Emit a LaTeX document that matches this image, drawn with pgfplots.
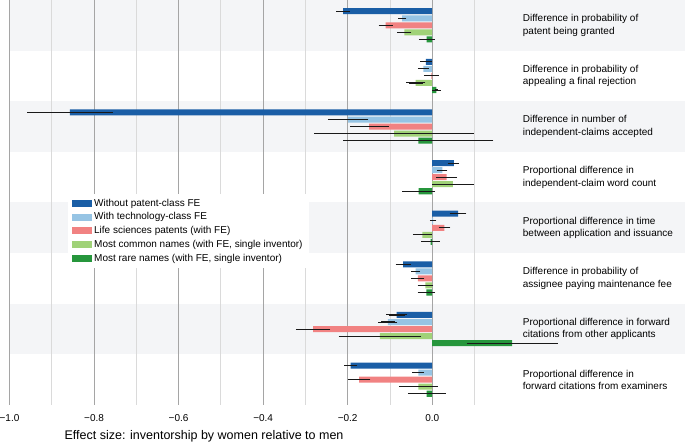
\documentclass[border=0pt]{standalone}
\usepackage{fontspec}
\setmainfont{Liberation Sans}
\usepackage{pgfplots}
\usepackage{pgfplotstable}
\pgfplotsset{compat=1.18}
\definecolor{cA}{RGB}{26,94,166}
\definecolor{cB}{RGB}{150,196,228}
\definecolor{cC}{RGB}{241,130,130}
\definecolor{cD}{RGB}{160,210,120}
\definecolor{cE}{RGB}{38,150,60}
\definecolor{band}{RGB}{244,245,247}
\definecolor{gmaj}{RGB}{165,165,165}
\definecolor{gmin}{RGB}{218,218,218}
\pgfplotstableread{
g v e
0 -0.211 0.010
1 -0.015 0.008
2 -0.857 0.095
3 0.051 0.007
4 0.061 0.014
5 -0.069 0.012
6 -0.084 0.019
7 -0.193 0.010
}\tA
\pgfplotstableread{
g v e
0 -0.071 0.004
1 -0.021 0.007
2 -0.199 0.042
3 0.024 0.006
4 0.002 0.002
5 -0.039 0.005
6 -0.105 0.017
7 -0.033 0.008
}\tB
\pgfplotstableread{
g v e
0 -0.110 0.011
1 -0.002 0.012
2 -0.149 0.040
3 0.034 0.019
4 0.029 0.008
5 -0.034 0.010
6 -0.282 0.035
7 -0.173 0.021
}\tC
\pgfplotstableread{
g v e
0 -0.066 0.011
1 -0.039 0.017
2 -0.090 0.183
3 0.049 0.043
4 -0.023 0.017
5 -0.016 0.013
6 -0.124 0.092
7 -0.033 0.040
}\tD
\pgfplotstableread{
g v e
0 -0.013 0.013
1 0.010 0.004
2 -0.033 0.172
3 -0.032 0.033
4 -0.004 0.016
5 -0.014 0.015
6 0.189 0.102
7 -0.013 0.039
}\tE
\begin{document}
\begin{tikzpicture}
\begin{axis}[
  set layers=standard,
  scale only axis,
  width=675.5bp, height=405bp,
  at={(9.5bp,39bp)}, anchor=south west,
  xmin=-1.0, xmax=0.598,
  ymin=-0.5, ymax=7.5,
  y dir=reverse,
  axis line style={draw=none},
  ytick=\empty,
  xtick={-1,-0.8,-0.6,-0.4,-0.2,0},
  xticklabels={−1.0,−0.8,−0.6,−0.4,−0.2,0.0},
  minor xtick={-0.9,-0.7,-0.5,-0.3,-0.1,0.1},
  major tick length=0pt, minor tick length=0pt,
  xmajorgrids, xminorgrids,
  major grid style={gmaj, line width=0.8bp},
  minor grid style={gmin, line width=0.8bp},
  xticklabel style={font=\fontsize{10bp}{12bp}\selectfont, yshift=-6bp},
  xlabel={Effect size: inventorship by women relative to men},
  xlabel style={font=\fontsize{12.5bp}{15bp}\selectfont, at={(rel axis cs:0.288,0)}, anchor=center, yshift=-31bp},
  xbar, bar width=0.119,
  legend cell align=left,
  legend style={draw=none, fill=white, at={(rel axis cs:0.0866,0.522)}, anchor=north west,
    font=\fontsize{10bp}{12bp}\selectfont, row sep=1.2bp, inner xsep=4bp, inner ysep=3bp},
  legend image code/.code={\fill (0bp,-3.5bp) rectangle (20bp,3.5bp);},
  error bars/x dir=both, error bars/x explicit,
  error bars/error bar style={black!90, line width=1.1bp},
  error bars/error mark options={black!90, line width=1bp, mark size=2.4bp},
]
\begin{pgfonlayer}{axis background}
\fill[band] (axis cs:-1,-0.5) rectangle (axis cs:0.598,0.5);
\fill[band] (axis cs:-1,1.5) rectangle (axis cs:0.598,2.5);
\fill[band] (axis cs:-1,3.5) rectangle (axis cs:0.598,4.5);
\fill[band] (axis cs:-1,5.5) rectangle (axis cs:0.598,6.5);
\end{pgfonlayer}
\addplot[fill=cA, draw=none, bar shift=-0.278] table[x=v, y=g, x error=e] {\tA};
\addlegendentry{Without patent-class FE}
\addplot[fill=cB, draw=none, bar shift=-0.139] table[x=v, y=g, x error=e] {\tB};
\addlegendentry{With technology-class FE}
\addplot[fill=cC, draw=none, bar shift=0] table[x=v, y=g, x error=e] {\tC};
\addlegendentry{Life sciences patents (with FE)}
\addplot[fill=cD, draw=none, bar shift=0.139] table[x=v, y=g, x error=e] {\tD};
\addlegendentry{Most common names (with FE, single inventor)}
\addplot[fill=cE, draw=none, bar shift=0.278] table[x=v, y=g, x error=e] {\tE};
\addlegendentry{Most rare names (with FE, single inventor)}
\tikzset{lab/.style={anchor=west, align=left, font=\fontsize{10bp}{12.5bp}\selectfont, inner sep=0pt}}
\node[lab] at (axis cs:0.214,0) {Difference in probability of\\patent being granted};
\node[lab] at (axis cs:0.214,1) {Difference in probability of\\appealing a final rejection};
\node[lab] at (axis cs:0.214,2) {Difference in number of\\independent-claims accepted};
\node[lab] at (axis cs:0.214,3) {Proportional difference in\\independent-claim word count};
\node[lab] at (axis cs:0.214,4) {Proportional difference in time\\between application and issuance};
\node[lab] at (axis cs:0.214,5) {Difference in probability of\\assignee paying maintenance fee};
\node[lab] at (axis cs:0.214,6) {Proportional difference in forward\\citations from other applicants};
\node[lab] at (axis cs:0.214,7) {Proportional difference in\\forward citations from examiners};
\end{axis}
\pgfresetboundingbox
\path[use as bounding box] (0,0) rectangle (685bp,444bp);
\end{tikzpicture}
\end{document}
